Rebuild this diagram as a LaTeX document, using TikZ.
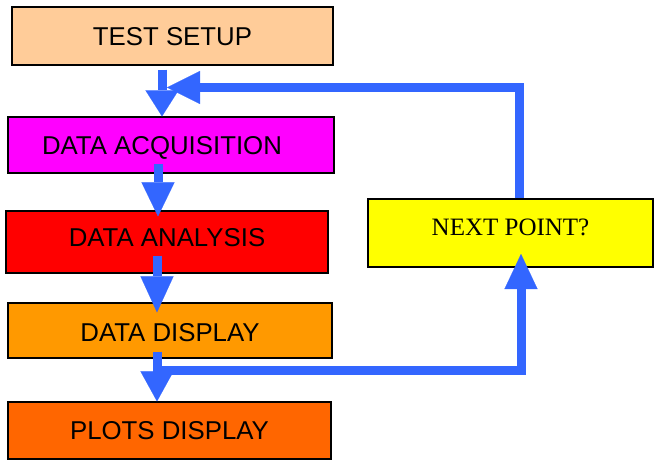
\documentclass[tikz,border=0pt]{standalone}
\usepackage{fontspec}
\setmainfont{Liberation Sans}
\newfontfamily\timesfont{Liberation Serif}
\usetikzlibrary{arrows.meta}
\definecolor{peach}{HTML}{FFCC99}
\definecolor{magentab}{HTML}{FF00FF}
\definecolor{redb}{HTML}{FF0000}
\definecolor{orangeb}{HTML}{FF9900}
\definecolor{darkorangeb}{HTML}{FF6600}
\definecolor{yellowb}{HTML}{FFFF00}
\definecolor{flowblue}{HTML}{3366FF}
\tikzset{
  box/.style={draw=black, line width=1.2pt, rectangle, inner sep=0pt,
    font=\fontsize{25.8}{30}\selectfont, text height=18.5pt, text depth=0pt},
  flow/.style={draw=flowblue, line width=9pt, line join=miter, line cap=butt},
  tip/.style={-{Triangle[length=#1, width=33pt, line width=0.1pt]}},
}
\begin{document}
\begin{tikzpicture}[x=1pt, y=-1pt]
\useasboundingbox (0,0) rectangle (654,460);
\node[box, fill=peach, minimum width=321pt, minimum height=58pt] (setup) at (172.5,36) {TEST SETUP};
\node[box, fill=magentab, minimum width=326pt, minimum height=56pt] (acq) at (171,145) {DATA ACQUISITION\hspace*{18pt}};
\node[box, fill=redb, minimum width=322pt, minimum height=62pt, text depth=9pt] (ana) at (167,242) {DATA ANALYSIS};
\node[box, fill=orangeb, minimum width=324pt, minimum height=55pt, text height=22pt] (disp) at (170,330.5) {DATA DISPLAY};
\node[box, fill=darkorangeb, minimum width=323pt, minimum height=57pt] (plots) at (169.5,430.5) {PLOTS DISPLAY};
\node[box, fill=yellowb, minimum width=285pt, minimum height=68pt, text depth=13pt, font=\timesfont\fontsize{25}{30}\selectfont] (next) at (510.5,233) {NEXT POINT?};
% down arrows
\draw[flow, tip=26pt] (162,0 |- setup.south) ++(0,4) -- (162,0 |- acq.north);
\draw[flow, tip=34pt] (158,0 |- acq.south) ++(0,-10) -- ([yshift=-6pt]158,0 |- ana.north);
\draw[flow, tip=36pt] (157,0 |- ana.south) ++(0,-18) -- ([yshift=-10pt]157,0 |- disp.north);
\draw[flow, tip=30pt] (157,0 |- disp.south) ++(0,-7) -- (157,0 |- plots.north);
% feedback
\coordinate (fbcorner) at (519,87.5);
\coordinate (fbtip) at (167,87.5);
\draw[flow, tip=33pt] (519,0 |- next.north) -- (fbcorner) -- (fbtip);
\coordinate (jn) at (153,370);
\coordinate (jcorner) at (521,370);
\coordinate (jtip) at (521,254);
\draw[flow, tip=35pt] (jn) -- (jcorner) -- (jtip);
\end{tikzpicture}
\end{document}
